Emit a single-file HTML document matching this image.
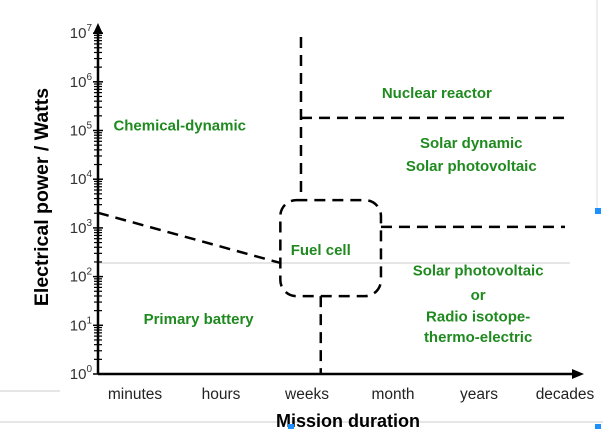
<!DOCTYPE html>
<html><head><meta charset="utf-8"><style>
html,body{margin:0;padding:0;background:#fff;}
svg{display:block;font-family:"Liberation Sans",Arial,sans-serif;}
.g{fill:#1f8a1f;font-weight:bold;font-size:15px;text-anchor:middle;font-family:"Liberation Sans",sans-serif;}
</style></head><body>
<svg id="c" width="603" height="429" viewBox="0 0 603 429" xmlns="http://www.w3.org/2000/svg">
<line x1="0" y1="391" x2="60" y2="391" stroke="#ccc"/>
<line x1="0" y1="422" x2="603" y2="422" stroke="#ccc"/>
<line x1="597" y1="0" x2="597" y2="210" stroke="#ddd"/>
<g id="grid"></g>
<g id="axes"></g>
<g id="marks"></g>
<g id="labels"></g>
<text x="48" y="197" transform="rotate(-90 48 197)" text-anchor="middle" font-weight="bold" font-size="19.5">Electrical power / Watts</text>
<text x="348" y="427" text-anchor="middle" font-weight="bold" font-size="18">Mission duration</text>
<rect x="595" y="208" width="6" height="6" fill="#1e8fff"/>
<rect x="288" y="424" width="6" height="6" fill="#1e8fff"/>
<rect x="595" y="424" width="6" height="6" fill="#1e8fff"/>
</svg>
<script>
const categories=["minutes","hours","weeks","month","years","decades"];
const yExponents=[0,1,2,3,4,5,6,7];
// boundary lines: [xStart, log10 P start, xEnd, log10 P end] in category-index / decade units
const boundaryX1=[1.93,1.93,-0.43,2.86,2.16];
const boundaryY1=[6.92,5.26,3.31,3.02,1.6];
const boundaryX2=[1.93,5.0,1.69,5.0,2.16];
const boundaryY2=[3.59,5.26,2.28,3.02,0];
const fuelBox=[1.69,3.57,2.86,1.6];
const regionNames=["Chemical-dynamic","Nuclear reactor","Solar dynamic","Solar photovoltaic","Fuel cell","Solar photovoltaic","or","Radio isotope-","thermo-electric","Primary battery"];
const regionX=[0.52,3.51,3.91,3.91,2.16,3.99,3.99,3.99,3.99,0.74];
const regionY=[5.1,5.77,4.74,4.27,2.55,2.13,1.62,1.18,0.76,1.13];

const NS="http://www.w3.org/2000/svg";
const X=v=>135+v*86, Y=p=>374-p*48.7, AX=98;
function mk(tag,attrs,parent){const e=document.createElementNS(NS,tag);for(const k in attrs)e.setAttribute(k,attrs[k]);document.getElementById(parent).appendChild(e);return e;}
let gl=mk('line',{x1:AX,y1:263,x2:570,y2:263,stroke:'#ccc'},'grid');


let ya=mk('line',{x1:AX,y1:Y(0),x2:AX,y2:30,stroke:'#000','stroke-width':2.5},'axes');


let yar=mk('path',{d:`M${AX-5},34 L${AX},23 L${AX+5},34 Z`,fill:'#000'},'axes');


let xa=mk('line',{x1:AX,y1:Y(0),x2:575,y2:Y(0),stroke:'#000','stroke-width':2.5},'axes');


let xar=mk('path',{d:`M572,${Y(0)-5} L584,${Y(0)} L572,${Y(0)+5} Z`,fill:'#000'},'axes');


yExponents.forEach(e=>{
  const y=Y(e);
  const t=mk('text',{x:AX-6,y:y+5,'text-anchor':'end','font-size':15,fill:'#333'},'axes');
  t.innerHTML='10<tspan dy="-7" font-size="10">'+e+'</tspan>';
  
  
  const tk=mk('line',{x1:AX-5,y1:y,x2:AX+5,y2:y,stroke:'#000','stroke-width':1.5},'axes');
  
  
  if(e<7){for(let m=2;m<10;m++){const yy=Y(e+Math.log10(m));
    const mt=mk('line',{x1:AX-4,y1:yy,x2:AX+4,y2:yy,stroke:'#000','stroke-width':1.2},'axes');
    
    }}
});
categories.forEach((c,i)=>{
  const t=mk('text',{x:X(i),y:399,'text-anchor':'middle','font-size':15.5,fill:'#222'},'axes');
  t.textContent=c;
  
  
});
boundaryX1.forEach((_,i)=>{
  const l=mk('line',{x1:X(boundaryX1[i]),y1:Y(boundaryY1[i]),x2:X(boundaryX2[i]),y2:Y(boundaryY2[i]),stroke:'#000','stroke-width':2.5,'stroke-dasharray':'11,7'},'marks');
  
  
});
const bx=X(fuelBox[0]),by=Y(fuelBox[1]);
const fb=mk('rect',{x:bx,y:by,width:X(fuelBox[2])-bx,height:Y(fuelBox[3])-by,rx:16,fill:'none',stroke:'#000','stroke-width':2.5,'stroke-dasharray':'11,7'},'marks');


regionNames.forEach((n,i)=>{
  const t=mk('text',{x:X(regionX[i]),y:Y(regionY[i])+5,class:'g'},'labels');
  t.textContent=n;
  
  
});
</script>
</body></html>
